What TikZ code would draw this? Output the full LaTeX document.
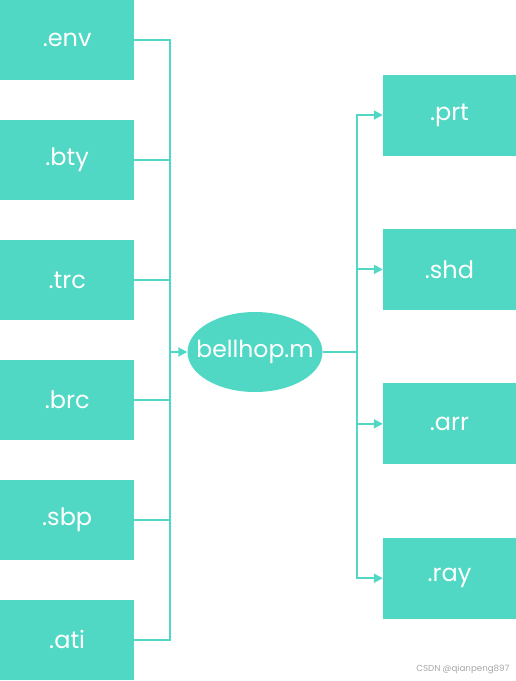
\documentclass[tikz,border=0pt]{standalone}
\usepackage{fontspec}
\setmainfont{Poppins}
\usetikzlibrary{arrows.meta, positioning, shapes.geometric}
\definecolor{mint}{RGB}{80,216,196}

\begin{document}
\begin{tikzpicture}[
  x=1pt, y=-1pt,
  node distance=39.5pt,
  box/.style={rectangle, fill=mint, text=white, minimum width=134pt, minimum height=80pt, inner sep=0pt, font=\fontsize{24}{28}\selectfont},
  core/.style={ellipse, fill=mint, text=white, minimum width=135pt, minimum height=80pt, inner xsep=-11pt, inner ysep=0pt, font=\fontsize{23.5}{28}\selectfont},
  link/.style={draw=mint, line width=2pt},
  tip/.style={-{Triangle[length=9pt, width=9pt]}}
]
\useasboundingbox (0,0) rectangle (516,681);

% inputs
\node[box, anchor=north west] (env) at (0,0) {.env};
\node[box, below=of env] (bty) {.bty};
\node[box, below=of bty] (trc) {.trc};
\node[box, below=of trc] (brc) {.brc};
\node[box, below=of brc] (sbp) {.sbp};
\node[box, below=of sbp] (ati) {.ati};

\node[core] (bell) at (255,352) {bellhop.m};

% outputs
\node[box, minimum width=133pt, minimum height=81pt] (prt) at (449.5,115) {.prt};
\node[box, minimum width=133pt, minimum height=81pt, below=73pt of prt] (shd) {.shd};
\node[box, minimum width=133pt, minimum height=81pt, below=73pt of shd] (arr) {.arr};
\node[box, minimum width=133pt, minimum height=81pt, below=73pt of arr] (ray) {.ray};

\coordinate (inL) at (170,352);
\coordinate (outR) at (357,352);

% Connessioni
\foreach \n in {env,bty,trc,brc,sbp,ati}
  \draw[link] (\n.east) -| (inL);
\draw[link, tip] (inL) -- (bell.west);
\draw[link] (bell.east) -- (outR);
\foreach \n in {prt,shd,arr,ray}
  \draw[link, tip] (outR) |- (\n.west);

\node[anchor=east, text=gray!70, font=\fontsize{8.7}{10}\selectfont] (mark) at (513,669) {CSDN @qianpeng897};

\end{tikzpicture}
\end{document}
